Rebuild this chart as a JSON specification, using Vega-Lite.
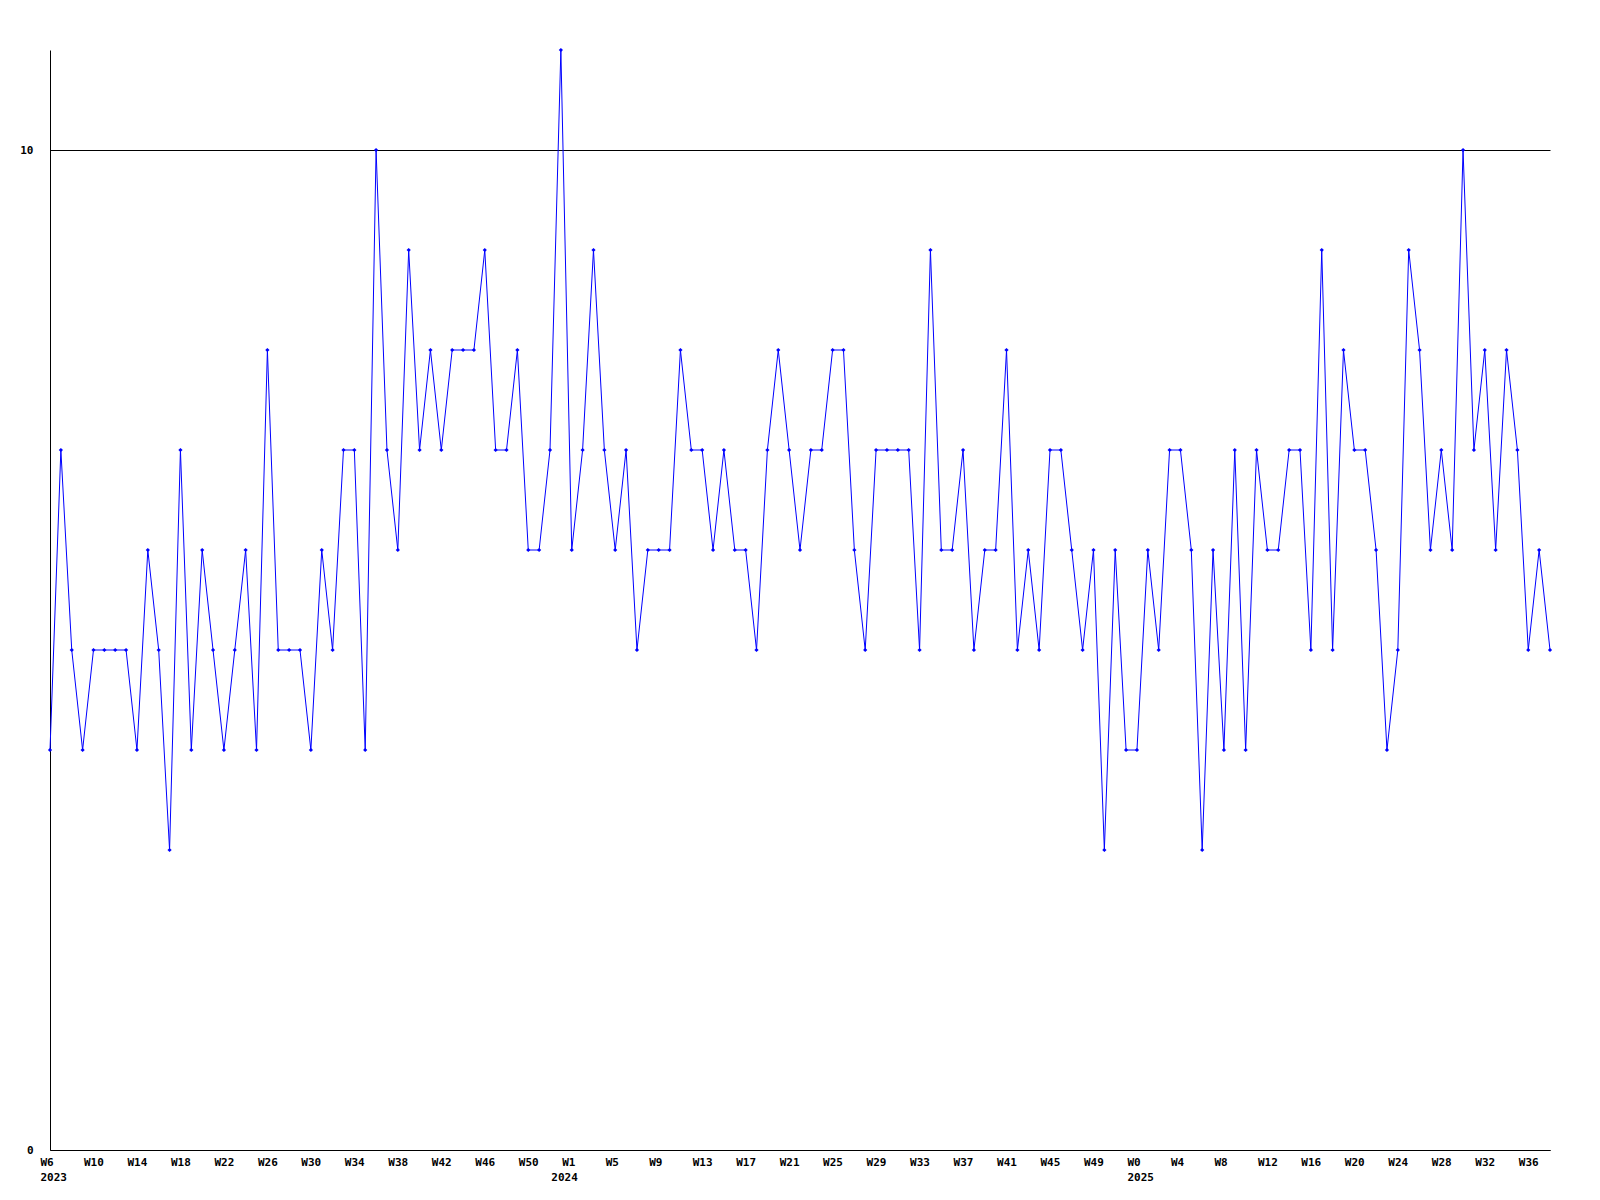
{
  "$schema": "https://vega.github.io/schema/vega-lite/v6.json",
  "width": 1500,
  "height": 1100,
  "autosize": {"type": "none"},
  "padding": {"left": 50, "top": 50, "right": 50, "bottom": 50},
  "background": "white",
  "config": {
    "view": {"stroke": null},
    "axis": {"labelFont": "DejaVu Sans Mono", "labelFontWeight": "bold", "labelFontSize": 11, "labelColor": "black", "domainColor": "black", "domainWidth": 1, "ticks": false}
  },
  "data": {"values": [
    {"week": "2023 W6", "count": 4}, {"week": "2023 W7", "count": 7}, {"week": "2023 W8", "count": 5}, {"week": "2023 W9", "count": 4},
    {"week": "2023 W10", "count": 5}, {"week": "2023 W11", "count": 5}, {"week": "2023 W12", "count": 5}, {"week": "2023 W13", "count": 5},
    {"week": "2023 W14", "count": 4}, {"week": "2023 W15", "count": 6}, {"week": "2023 W16", "count": 5}, {"week": "2023 W17", "count": 3},
    {"week": "2023 W18", "count": 7}, {"week": "2023 W19", "count": 4}, {"week": "2023 W20", "count": 6}, {"week": "2023 W21", "count": 5},
    {"week": "2023 W22", "count": 4}, {"week": "2023 W23", "count": 5}, {"week": "2023 W24", "count": 6}, {"week": "2023 W25", "count": 4},
    {"week": "2023 W26", "count": 8}, {"week": "2023 W27", "count": 5}, {"week": "2023 W28", "count": 5}, {"week": "2023 W29", "count": 5},
    {"week": "2023 W30", "count": 4}, {"week": "2023 W31", "count": 6}, {"week": "2023 W32", "count": 5}, {"week": "2023 W33", "count": 7},
    {"week": "2023 W34", "count": 7}, {"week": "2023 W35", "count": 4}, {"week": "2023 W36", "count": 10}, {"week": "2023 W37", "count": 7},
    {"week": "2023 W38", "count": 6}, {"week": "2023 W39", "count": 9}, {"week": "2023 W40", "count": 7}, {"week": "2023 W41", "count": 8},
    {"week": "2023 W42", "count": 7}, {"week": "2023 W43", "count": 8}, {"week": "2023 W44", "count": 8}, {"week": "2023 W45", "count": 8},
    {"week": "2023 W46", "count": 9}, {"week": "2023 W47", "count": 7}, {"week": "2023 W48", "count": 7}, {"week": "2023 W49", "count": 8},
    {"week": "2023 W50", "count": 6}, {"week": "2023 W51", "count": 6}, {"week": "2023 W52", "count": 7}, {"week": "2023 W53", "count": 11},
    {"week": "2024 W1", "count": 6}, {"week": "2024 W2", "count": 7}, {"week": "2024 W3", "count": 9}, {"week": "2024 W4", "count": 7},
    {"week": "2024 W5", "count": 6}, {"week": "2024 W6", "count": 7}, {"week": "2024 W7", "count": 5}, {"week": "2024 W8", "count": 6},
    {"week": "2024 W9", "count": 6}, {"week": "2024 W10", "count": 6}, {"week": "2024 W11", "count": 8}, {"week": "2024 W12", "count": 7},
    {"week": "2024 W13", "count": 7}, {"week": "2024 W14", "count": 6}, {"week": "2024 W15", "count": 7}, {"week": "2024 W16", "count": 6},
    {"week": "2024 W17", "count": 6}, {"week": "2024 W18", "count": 5}, {"week": "2024 W19", "count": 7}, {"week": "2024 W20", "count": 8},
    {"week": "2024 W21", "count": 7}, {"week": "2024 W22", "count": 6}, {"week": "2024 W23", "count": 7}, {"week": "2024 W24", "count": 7},
    {"week": "2024 W25", "count": 8}, {"week": "2024 W26", "count": 8}, {"week": "2024 W27", "count": 6}, {"week": "2024 W28", "count": 5},
    {"week": "2024 W29", "count": 7}, {"week": "2024 W30", "count": 7}, {"week": "2024 W31", "count": 7}, {"week": "2024 W32", "count": 7},
    {"week": "2024 W33", "count": 5}, {"week": "2024 W34", "count": 9}, {"week": "2024 W35", "count": 6}, {"week": "2024 W36", "count": 6},
    {"week": "2024 W37", "count": 7}, {"week": "2024 W38", "count": 5}, {"week": "2024 W39", "count": 6}, {"week": "2024 W40", "count": 6},
    {"week": "2024 W41", "count": 8}, {"week": "2024 W42", "count": 5}, {"week": "2024 W43", "count": 6}, {"week": "2024 W44", "count": 5},
    {"week": "2024 W45", "count": 7}, {"week": "2024 W46", "count": 7}, {"week": "2024 W47", "count": 6}, {"week": "2024 W48", "count": 5},
    {"week": "2024 W49", "count": 6}, {"week": "2024 W50", "count": 3}, {"week": "2024 W51", "count": 6}, {"week": "2024 W52", "count": 4},
    {"week": "2025 W0", "count": 4}, {"week": "2025 W1", "count": 6}, {"week": "2025 W2", "count": 5}, {"week": "2025 W3", "count": 7},
    {"week": "2025 W4", "count": 7}, {"week": "2025 W5", "count": 6}, {"week": "2025 W6", "count": 3}, {"week": "2025 W7", "count": 6},
    {"week": "2025 W8", "count": 4}, {"week": "2025 W9", "count": 7}, {"week": "2025 W10", "count": 4}, {"week": "2025 W11", "count": 7},
    {"week": "2025 W12", "count": 6}, {"week": "2025 W13", "count": 6}, {"week": "2025 W14", "count": 7}, {"week": "2025 W15", "count": 7},
    {"week": "2025 W16", "count": 5}, {"week": "2025 W17", "count": 9}, {"week": "2025 W18", "count": 5}, {"week": "2025 W19", "count": 8},
    {"week": "2025 W20", "count": 7}, {"week": "2025 W21", "count": 7}, {"week": "2025 W22", "count": 6}, {"week": "2025 W23", "count": 4},
    {"week": "2025 W24", "count": 5}, {"week": "2025 W25", "count": 9}, {"week": "2025 W26", "count": 8}, {"week": "2025 W27", "count": 6},
    {"week": "2025 W28", "count": 7}, {"week": "2025 W29", "count": 6}, {"week": "2025 W30", "count": 10}, {"week": "2025 W31", "count": 7},
    {"week": "2025 W32", "count": 8}, {"week": "2025 W33", "count": 6}, {"week": "2025 W34", "count": 8}, {"week": "2025 W35", "count": 7},
    {"week": "2025 W36", "count": 5}, {"week": "2025 W37", "count": 6}, {"week": "2025 W38", "count": 5}
  ]},
  "encoding": {
    "y": {
      "field": "count", "type": "quantitative",
      "scale": {"domain": [0, 11], "nice": false, "zero": true},
      "axis": {"title": null, "values": [0, 10], "grid": true, "gridColor": "black", "gridOpacity": 1, "gridWidth": 1, "labelPadding": 17}
    }
  },
  "layer": [
    {
      "mark": {"type": "line", "color": "#0000ff", "strokeWidth": 1, "clip": false},
      "encoding": {
        "x": {
          "field": "week", "type": "ordinal", "sort": null,
          "scale": {"type": "point", "padding": 0},
          "axis": {
            "title": null, "grid": false, "labelAngle": 0, "labelAlign": "left", "labelOffset": -10, "orient": "bottom",
            "labelBaseline": "top", "labelPadding": 6, "labelOverlap": false,
            "values": ["2023 W6", "2023 W10", "2023 W14", "2023 W18", "2023 W22", "2023 W26", "2023 W30", "2023 W34", "2023 W38", "2023 W42", "2023 W46", "2023 W50",
                       "2024 W1", "2024 W5", "2024 W9", "2024 W13", "2024 W17", "2024 W21", "2024 W25", "2024 W29", "2024 W33", "2024 W37", "2024 W41", "2024 W45", "2024 W49",
                       "2025 W0", "2025 W4", "2025 W8", "2025 W12", "2025 W16", "2025 W20", "2025 W24", "2025 W28", "2025 W32", "2025 W36"],
            "labelExpr": "split(datum.value, ' ')[1]"
          }
        }
      }
    },
    {
      "mark": {"type": "point", "shape": "diamond", "filled": true, "color": "#0000ff", "size": 18, "opacity": 1},
      "encoding": {
        "x": {
          "field": "week", "type": "ordinal", "sort": null,
          "scale": {"type": "point", "padding": 0},
          "axis": {
            "title": null, "grid": false, "domain": false, "labelAngle": 0, "labelAlign": "left", "labelOffset": -10, "orient": "bottom",
            "labelBaseline": "top", "labelPadding": 21, "labelOverlap": false,
            "values": ["2023 W6", "2023 W53", "2025 W0"],
            "labelExpr": "datum.value == '2023 W53' ? '2024' : split(datum.value, ' ')[0]"
          }
        }
      }
    }
  ],
  "resolve": {"axis": {"x": "independent"}}
}
